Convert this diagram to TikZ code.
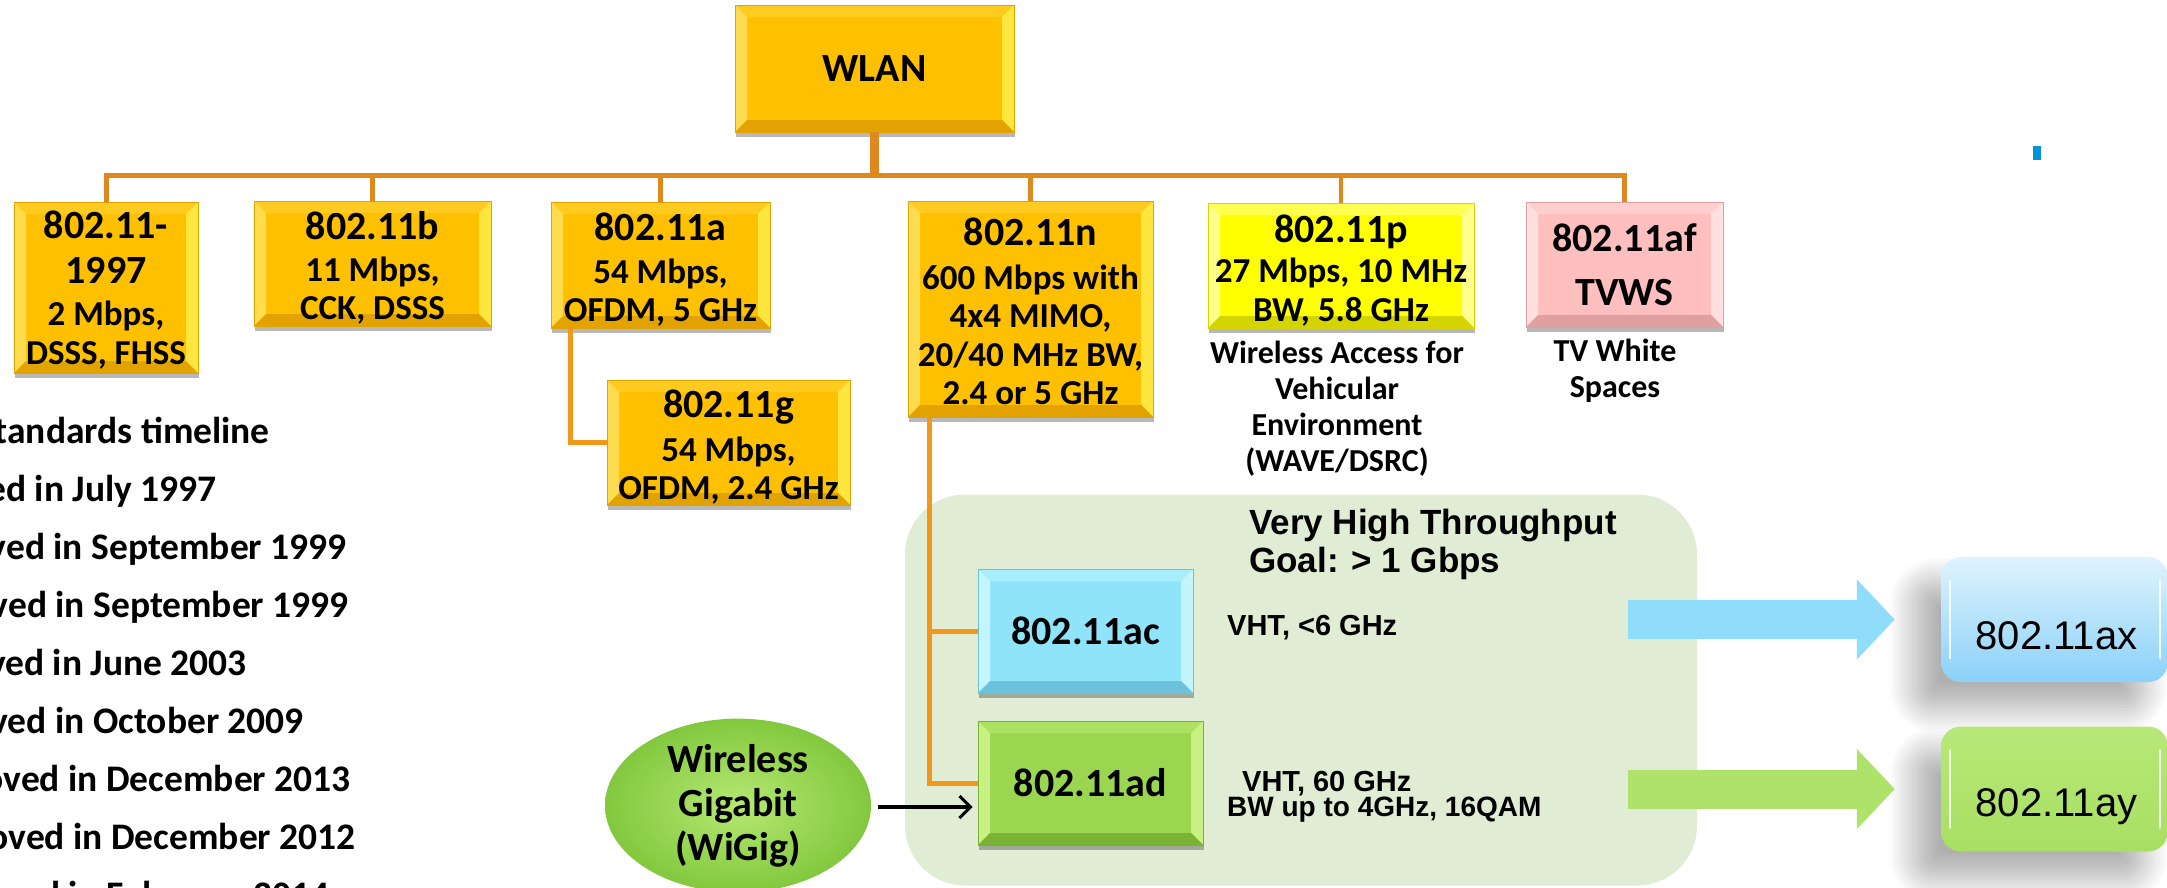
\documentclass[tikz,border=0pt]{standalone}
\usepackage{fontspec}
\setmainfont{Carlito}
\newfontfamily\arialfont{Liberation Sans}
\usetikzlibrary{calc,shapes.geometric,shadows,arrows.meta}

\pgfdeclarelayer{bg}
\pgfsetlayers{bg,main}

\definecolor{gold}{RGB}{255,192,0}
\definecolor{goldtop}{RGB}{255,203,32}
\definecolor{goldleft}{RGB}{255,219,78}
\definecolor{goldright}{RGB}{255,230,62}
\definecolor{goldbot}{RGB}{226,162,0}
\definecolor{ylw}{RGB}{255,255,0}
\definecolor{ylwtop}{RGB}{255,255,80}
\definecolor{ylwside}{RGB}{255,255,140}
\definecolor{ylwbot}{RGB}{212,212,0}
\definecolor{pink}{RGB}{255,191,191}
\definecolor{pinktop}{RGB}{255,206,206}
\definecolor{pinkside}{RGB}{255,223,223}
\definecolor{pinkbot}{RGB}{224,160,160}
\definecolor{cyanbox}{RGB}{143,228,250}
\definecolor{cyantop}{RGB}{168,237,252}
\definecolor{cyanside}{RGB}{196,245,254}
\definecolor{cyanbot}{RGB}{108,194,220}
\definecolor{grnbox}{RGB}{155,214,80}
\definecolor{grntop}{RGB}{172,225,98}
\definecolor{grnside}{RGB}{200,240,132}
\definecolor{grnbot}{RGB}{122,178,52}
\definecolor{regiongreen}{RGB}{224,236,211}
\definecolor{busorange}{RGB}{222,136,30}
\definecolor{linkorange}{RGB}{242,150,28}
\definecolor{arrowblue}{RGB}{143,221,251}
\definecolor{arrowgreen}{RGB}{174,226,106}
\definecolor{axtop}{RGB}{224,243,253}
\definecolor{axbot}{RGB}{138,209,248}
\definecolor{aytop}{RGB}{184,232,120}
\definecolor{aybot}{RGB}{168,223,98}
\definecolor{wginner}{RGB}{182,232,114}
\definecolor{wgouter}{RGB}{130,200,62}
\definecolor{markblue}{RGB}{0,150,214}

% title and detail sizes inside the boxes
\newcommand\tsz{\fontsize{40}{45}\selectfont}
\newcommand\dsz{\fontsize{35}{38.5}\selectfont}
% first title line, with a strut that lowers the block a little
\newcommand\tl{\tsz\rule{0pt}{37pt}}

% soft shadow behind a successor box: stacked translucent rounded rectangles
\newcommand\softshadow[1]{%
  \foreach \k in {0,...,16}{%
    \pgfmathsetmacro\r{24-3*\k}
    \pgfmathsetmacro\rc{max(3,20+\r)}
    \fill[black, opacity=0.02, rounded corners=\rc pt]
      ($(#1.north west)+(-26-\r,26-\r)$) rectangle ($(#1.south east)+(-26+\r,26+\r)$);
  }}

\tikzset{
  bevelbox/.style n args={5}{rectangle, fill=#1, draw=#5, line width=0.8pt,
    inner sep=0pt, align=center, font=\bfseries\dsz,
    drop shadow={shadow xshift=1pt, shadow yshift=-5pt, opacity=0.28, fill=black},
    path picture={
      \path (path picture bounding box.north west) coordinate (pnw)
            (path picture bounding box.north east) coordinate (pne)
            (path picture bounding box.south west) coordinate (psw)
            (path picture bounding box.south east) coordinate (pse);
      \fill[#2] (pnw) -- (pne) -- ($(pne)+(-12,12)$) -- ($(pnw)+(12,12)$) -- cycle;
      \fill[#3] (pnw) -- ($(pnw)+(12,12)$) -- ($(psw)+(12,-12)$) -- (psw) -- cycle;
      \fill[#4] (pne) -- ($(pne)+(-12,12)$) -- ($(pse)+(-12,-12)$) -- (pse) -- cycle;
      \fill[#5] (psw) -- ($(psw)+(12,-12)$) -- ($(pse)+(-12,-12)$) -- (pse) -- cycle;
    }},
  goldbox/.style={bevelbox={gold}{goldtop}{goldleft}{goldright}{goldbot}},
  ylwbox/.style={bevelbox={ylw}{ylwtop}{ylwside}{ylwside}{ylwbot}},
  pinkbox/.style={bevelbox={pink}{pinktop}{pinkside}{pinkside}{pinkbot}},
  cyanstd/.style={bevelbox={cyanbox}{cyantop}{cyanside}{cyanside}{cyanbot}},
  grnstd/.style={bevelbox={grnbox}{grntop}{grnside}{grnside}{grnbot}},
  busline/.style={draw=busorange, line width=5pt},
  stemline/.style={draw=busorange, line width=9pt},
  dropline/.style={draw=busorange, line width=4.5pt},
  linkline/.style={draw=linkorange, line width=5pt},
  timeline/.style={anchor=base east, inner sep=0pt, font=\bfseries\fontsize{37.5}{40}\selectfont},
  notetext/.style={align=center, inner sep=0pt, font=\bfseries\fontsize{32}{36}\selectfont},
  vhttext/.style={anchor=west, align=left, inner sep=0pt, font=\arialfont\bfseries},
  futurebox/.style={rectangle, rounded corners=20pt, minimum width=227pt,
    minimum height=125pt, inner sep=0pt},
  futuretext/.style={inner sep=0pt, font=\arialfont\fontsize{40}{40}\selectfont},
  gloss/.style={white, line width=2.5pt, opacity=0.85, line cap=round},
  bigarrow/.style={line width=39pt, -{Triangle[length=38pt,width=78pt]}},
}

\begin{document}
\begin{tikzpicture}[x=1pt,y=-1pt]
\useasboundingbox (0,0) rectangle (2167,887);
\begin{pgfonlayer}{bg}
  \fill[white] (0,0) rectangle (2167,887);
\end{pgfonlayer}

% very high throughput region
\node[rounded corners=60pt, fill=regiongreen, minimum width=792pt,
      minimum height=391pt, inner sep=0pt] (vht) at (1301,690) {};

% root and first-level standards
\node[goldbox, minimum width=279pt, minimum height=127pt] (wlan) at (874.5,68.5) {\tsz WLAN};
\node[goldbox, minimum width=184pt, minimum height=171pt] (b97) at (106,287.5)
  {\tsz\rule{0pt}{32pt}802.11-\\[6.5pt]\tsz 1997\\[4pt]2 Mbps,\\DSSS, FHSS};
\node[goldbox, minimum width=237pt, minimum height=125pt] (b) at (372.5,263.5)
  {\tl 802.11b\\[3pt]11 Mbps,\\CCK, DSSS};
\node[goldbox, minimum width=219pt, minimum height=126pt] (a) at (660.5,265)
  {\tl 802.11a\\[4pt]54 Mbps,\\OFDM, 5 GHz};
\node[goldbox, minimum width=243pt, minimum height=125pt] (g) at (728.5,442.5)
  {\tl 802.11g\\[5pt]54 Mbps,\\OFDM, 2.4 GHz};
\node[goldbox, minimum width=245pt, minimum height=216pt] (n) at (1030.5,309)
  {\tsz\rule{0pt}{33pt}802.11n\\[5pt]600 Mbps with\\4x4 MIMO,\\20/40 MHz BW,\\2.4 or 5 GHz};
\node[ylwbox, minimum width=266pt, minimum height=125pt] (p) at (1341,265.5)
  {\tl 802.11p\\[2pt]27 Mbps, 10 MHz\\BW, 5.8 GHz};
\node[pinkbox, minimum width=197pt, minimum height=125pt] (af) at (1624.5,264.5)
  {\tsz 802.11af\\[15pt]\tsz TVWS};

\node[notetext] (pnote) at (1337,409) {Wireless Access for\\Vehicular\\Environment\\(WAVE/DSRC)};
\node[notetext] (afnote) at (1615,371) {TV White\\Spaces};

% tree connectors
\draw[stemline] (wlan.south) -- ++(0,45);
\foreach \c in {b97,b,a,n,p,af}
  \draw[dropline] ($(wlan.south)+(0,43)$) -| (\c.north);
\draw[busline] ($(wlan.south)+(0,43)$) -| (b97.north);
\draw[busline] ($(wlan.south)+(0,43)$) -| (af.north);
\draw[linkline] ($(a.south west)+(20,0)$) |- (g.west);

% very high throughput members
\node[cyanstd, minimum width=215pt, minimum height=124pt] (ac) at (1085.5,631) {\tsz 802.11ac};
\node[grnstd, minimum width=225pt, minimum height=124pt] (ad) at (1090.5,783) {\tsz 802.11ad};
\draw[linkline] ($(n.south west)+(22,0)$) |- (ac.west);
\draw[linkline] ($(n.south west)+(22,0)$) |- (ad.west);

\node[vhttext, font=\arialfont\bfseries\fontsize{35}{38}\selectfont] (vhttitle) at (1249,544)
  {Very High Throughput\\Goal: > 1 Gbps};
\node[vhttext, font=\arialfont\bfseries\fontsize{29}{32}\selectfont] (acnote) at (1227,628) {VHT, <6 GHz};
\node[vhttext, font=\arialfont\bfseries\fontsize{29}{32}\selectfont] (adnote1) at (1242,784) {VHT, 60 GHz};
\node[vhttext, font=\arialfont\bfseries\fontsize{28}{32}\selectfont] (adnote2) at (1227,810) {BW up to 4GHz, 16QAM};

% WiGig feeding 802.11ad
\node[ellipse, minimum width=266pt, minimum height=159pt, inner sep=0pt,
      inner color=wginner, outer color=wgouter, align=center,
      font=\bfseries\fontsize{40}{44}\selectfont] (wigig) at (738,805.5)
  {Wireless\\Gigabit\\(WiGig)};
\coordinate (wgout) at ($(wigig.east)+(7,1.5)$);
\draw[line width=3.5pt, shorten >=5pt, -{Straight Barb[length=11pt,width=22pt,line width=3pt]}]
  (wgout) -- (wgout -| ad.west);

% successors
\node[futurebox, top color=axtop, bottom color=axbot] (ax) at (2054.5,619.5) {};
\node[futurebox, top color=aytop, bottom color=aybot] (ay) at (2054.5,789) {};
\begin{pgfonlayer}{bg}
  \softshadow{ax}
  \softshadow{ay}
\end{pgfonlayer}
\draw[gloss] ($(ax.north west)+(9,24)$) -- ($(ax.south west)+(9,-24)$);
\draw[gloss] ($(ax.north east)+(-8,24)$) -- ($(ax.south east)+(-8,-24)$);
\draw[gloss] ($(ay.north west)+(9,24)$) -- ($(ay.south west)+(9,-24)$);
\draw[gloss] ($(ay.north east)+(-8,24)$) -- ($(ay.south east)+(-8,-24)$);
\node[futuretext] (axlabel) at ($(ax.center)+(2,16)$) {802.11ax};
\node[futuretext] (aylabel) at ($(ay.center)+(2,18)$) {802.11ay};

\coordinate (axtail) at (1628,619.5);
\coordinate (aytail) at (1628,789);
\draw[bigarrow, arrowblue] (axtail) -- ($(ax.west)+(-46,0)$);
\draw[bigarrow, arrowgreen] (aytail) -- ($(ay.west)+(-46,0)$);

% small mark at top right
\fill[markblue] (2033,146) rectangle (2041,160);

% timeline list
\node[timeline] (t1) at (270,443) {tandards timeline};
\node[timeline] (t2) at (217,501) {ed in July 1997};
\node[timeline] (t3) at (347,559) {ved in September 1999};
\node[timeline] (t4) at (349,617) {ved in September 1999};
\node[timeline] (t5) at (247,675) {ved in June 2003};
\node[timeline] (t6) at (304,733) {ved in October 2009};
\node[timeline] (t7) at (351,791) {oved in December 2013};
\node[timeline] (t8) at (356,849) {oved in December 2012};
\node[timeline] (t9) at (330,907) {oved in February 2014};
\end{tikzpicture}
\end{document}
